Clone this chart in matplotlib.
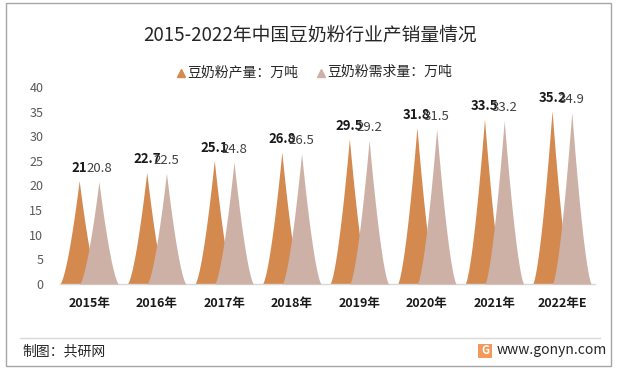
import numpy as np
import matplotlib
matplotlib.use("Agg")
import matplotlib.pyplot as plt
from matplotlib.lines import Line2D
from matplotlib.patches import Rectangle

plt.rcParams['font.family'] = ['Noto Sans CJK SC', 'DejaVu Sans']

categories = ["2015年", "2016年", "2017年", "2018年", "2019年", "2020年", "2021年", "2022年E"]
production = [21, 22.7, 25.1, 26.8, 29.5, 31.8, 33.5, 35.2]
demand = [20.8, 22.5, 24.8, 26.5, 29.2, 31.5, 33.2, 34.9]
series_names = ["豆奶粉产量：万吨", "豆奶粉需求量：万吨"]
yticks = [0, 5, 10, 15, 20, 25, 30, 35, 40]

c_prod = '#D4894F'
c_dem = '#CDB1A6'

W, H = 617, 369
fig = plt.figure(figsize=(W / 100, H / 100), dpi=100)

def fx(px):
    return px / W

def fy(py):
    return 1 - py / H

# border
fig.add_artist(Rectangle((fx(6), fy(366)), fx(605), (363) / H, transform=fig.transFigure,
                         fill=False, edgecolor='#A6A6A6', linewidth=1.0))

ax = fig.add_axes([fx(60), fy(284), fx(535), 197 / H])
ax.set_facecolor('none')

off = 0.146
hw = 0.29
p = 1.5
t = np.linspace(-1, 1, 201)
shape = (1 - np.abs(t)) ** p

for i, (vp, vd) in enumerate(zip(production, demand)):
    xo = i - off + t * hw
    ax.fill_between(xo, 0, vp * shape, color=c_prod, linewidth=0, zorder=2)
    xd = i + off + t * hw
    ax.fill_between(xd, 0, vd * shape, color=c_dem, linewidth=0, zorder=3)
    ax.text(i - off, vp + 2.6, f"{vp:g}", ha='center', va='center', fontsize=9.5,
            fontweight='bold', color='#1A1A1A', zorder=5)
    ax.text(i + off, vd + 2.6, f"{vd:g}", ha='center', va='center', fontsize=9.5,
            color='#404040', zorder=5)

ax.set_xlim(-0.43, 7.49)
ax.set_ylim(0, 40)
ax.set_yticks(yticks)
ax.set_yticklabels([str(v) for v in yticks], fontsize=9, color='#595959')
ax.set_xticks(range(len(categories)))
ax.set_xticklabels(categories, fontsize=9, fontweight='bold', color='#1A1A1A')
ax.tick_params(axis='y', length=0, pad=12)
ax.tick_params(axis='x', length=0, pad=9)
for s in ['top', 'right', 'left']:
    ax.spines[s].set_visible(False)
ax.spines['bottom'].set_color('#D9D9D9')
ax.spines['bottom'].set_linewidth(1.0)

# title
fig.text(fx(310), fy(35), "2015-2022年中国豆奶粉行业产销量情况", fontsize=13.5,
         ha='center', va='center', color='#262626')

# legend
for (mx, tx, col, name) in [(181, 187, c_prod, series_names[0]), (321, 327, c_dem, series_names[1])]:
    fig.add_artist(Line2D([fx(mx)], [fy(73)], marker='^', markersize=5.5, color=col,
                          linestyle='none', transform=fig.transFigure))
    fig.text(fx(tx), fy(72), name, fontsize=10, ha='left', va='center', color='#262626')

# footer
fig.add_artist(Line2D([fx(20), fx(600)], [fy(338), fy(338)], color='#D9D9D9', linewidth=1.0,
                      transform=fig.transFigure))
fig.text(fx(22), fy(351), "制图：共研网", fontsize=10, ha='left', va='center', color='#262626')
fig.add_artist(Rectangle((fx(478), fy(358)), fx(14), 14 / H, transform=fig.transFigure,
                         facecolor='#F29A5C', edgecolor='none'))
fig.text(fx(485), fy(351), "G", fontsize=8, fontweight='bold', ha='center', va='center', color='white')
fig.text(fx(497), fy(350), "www.gonyn.com", fontsize=10, ha='left', va='center', color='#262626')

fig.savefig("out.png", dpi=100)
